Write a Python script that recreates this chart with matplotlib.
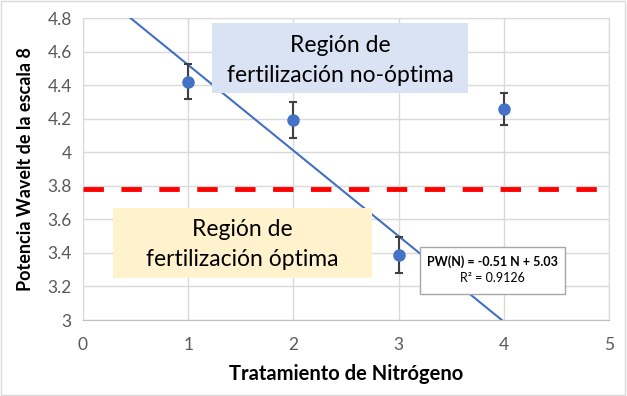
import numpy as np
import matplotlib
matplotlib.use("Agg")
import matplotlib.pyplot as plt
from matplotlib.patches import Rectangle

plt.rcParams["font.family"] = ["Lato", "DejaVu Sans"]

# datos
tratamiento = [1, 2, 3, 4]
potencia = [4.42, 4.19, 3.39, 4.26]
error = [0.105, 0.107, 0.107, 0.095]
umbral = 3.78
pendiente = -0.51
intercepto = 5.03
r2 = 0.9126
xticks = [0, 1, 2, 3, 4, 5]
yticks = [3, 3.2, 3.4, 3.6, 3.8, 4, 4.2, 4.4, 4.6, 4.8]

W, H = 627, 396
fig = plt.figure(figsize=(W / 100, H / 100), dpi=100)

def px(x, y):
    # pixeles (desde arriba-izquierda) a fraccion de figura
    return x / W, 1 - y / H

l, t = px(83, 18)
r, b = px(609, 320)
ax = fig.add_axes([l, b, r - l, t - b])

gris = "#d9d9d9"
ax.set_xlim(0, 5)
ax.set_ylim(3, 4.8)
ax.set_xticks(xticks)
ax.set_yticks(yticks)
ax.set_yticklabels([f"{v:g}" for v in yticks])
ax.grid(True, color=gris, lw=1)
ax.set_axisbelow(True)
for s in ax.spines.values():
    s.set_color(gris)
ax.spines["bottom"].set_color("#bfbfbf")
ax.tick_params(length=0, colors="#595959", labelsize=12.5, pad=8)
ax.tick_params(axis="x", pad=12)

# linea de tendencia
xt = np.array([0, 5])
ax.plot(xt, pendiente * xt + intercepto, color="#4170c0", lw=1.5, zorder=3)

# umbral
ax.plot([0, 4.95], [umbral, umbral], color="#ff0000", lw=3.5,
        dashes=(4.2, 3.6), zorder=3)

ax.errorbar(tratamiento, potencia, yerr=error, fmt="o", color="#4472c4",
            ms=8, ecolor="#404040", elinewidth=1.5, capsize=3, capthick=1.5,
            zorder=4)

ax.set_xlabel("Tratamiento de Nitrógeno", fontsize=14.5, fontweight="bold",
              labelpad=8)
ax.set_ylabel("Potencia Wavelt de la escala 8", fontsize=13,
              fontweight="bold", labelpad=10)

# cajas de regiones
def caja(x0, y0, x1, y1, color, lineas, ys, size):
    xa, ya = px(x0, y1)
    xb, yb = px(x1, y0)
    fig.add_artist(Rectangle((xa, ya), xb - xa, yb - ya, transform=fig.transFigure,
                             facecolor=color, edgecolor="none", zorder=5))
    for txt, yy in zip(lineas, ys):
        fx, fy = px((x0 + x1) / 2, yy)
        fig.text(fx, fy, txt, ha="center", va="center", fontsize=size,
                 color="black", zorder=6)

caja(212, 23, 468, 93, "#dae3f3", ["Región de", "fertilización no-óptima"], [46, 75], 16.5)
caja(113, 208, 372, 278, "#fff2cc", ["Región de", "fertilización óptima"], [230, 260], 16.5)

# cuadro de la ecuacion
xa, ya = px(420, 294)
xb, yb = px(565, 247)
fig.add_artist(Rectangle((xa, ya), xb - xa, yb - ya, transform=fig.transFigure,
                         facecolor="white", edgecolor="#a6a6a6", lw=1, zorder=5))
fx, fy = px(492, 262)
fig.text(fx, fy, f"PW(N) = {pendiente} N + {intercepto}", ha="center", va="center",
         fontsize=9, fontweight="bold", zorder=6)
fx, fy = px(492, 278)
fig.text(fx, fy, f"R² = {r2}", ha="center", va="center", fontsize=9, zorder=6)

# borde exterior
fig.add_artist(Rectangle((0.002, 0.003), 0.995, 0.994, transform=fig.transFigure,
                         facecolor="none", edgecolor=gris, lw=1))

fig.savefig("out.png", dpi=100)
